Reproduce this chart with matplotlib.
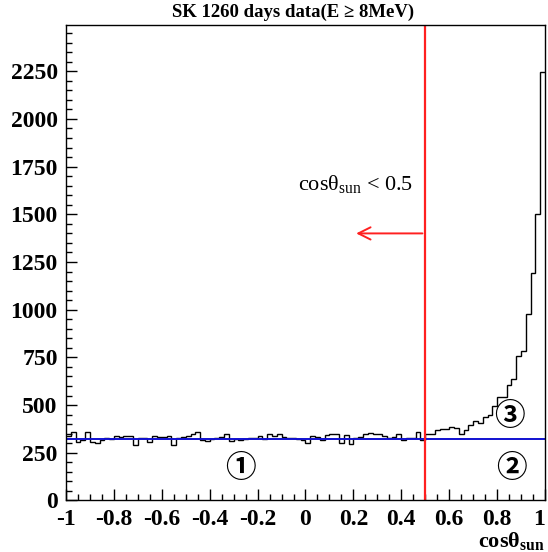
import numpy as np
import matplotlib
matplotlib.use("Agg")
import matplotlib.pyplot as plt
import matplotlib.transforms as mtransforms
from matplotlib.ticker import MultipleLocator

plt.rcParams['font.family'] = ['Liberation Serif', 'DejaVu Serif']
plt.rcParams['mathtext.fontset'] = 'custom'
plt.rcParams['mathtext.rm'] = 'Liberation Serif'
plt.rcParams['mathtext.it'] = 'Liberation Serif:italic'
plt.rcParams['mathtext.bf'] = 'Liberation Serif:bold'

# cos(theta_sun) histogram: 100 bins from -1 to 1
bin_edges = np.linspace(-1.0, 1.0, 101)
counts = [
    336, 358, 309, 318, 358, 307, 299, 318, 329, 322,
    339, 334, 338, 339, 290, 330, 325, 309, 339, 335,
    332, 336, 290, 328, 332, 337, 350, 358, 317, 312,
    320, 330, 334, 349, 312, 322, 319, 320, 328, 330,
    339, 320, 346, 340, 350, 334, 330, 327, 321, 315,
    300, 339, 334, 316, 342, 348, 351, 302, 342, 298,
    330, 334, 348, 356, 351, 346, 339, 330, 335, 351,
    316, 330, 330, 360, 316, 346, 348, 369, 376, 376,
    386, 379, 351, 372, 395, 418, 407, 436, 448, 495,
    544, 545, 606, 636, 755, 786, 980, 1191, 1502, 2245,
]
background_level = 322
cut_value = 0.5

fig = plt.figure(figsize=(5.48, 5.52), dpi=100)
ax = fig.add_axes([0.1204, 0.0933, 0.8741, 0.8623])

ax.stairs(counts, bin_edges, color='black', lw=1.0, baseline=None)
ax.axhline(background_level, color='#1010d0', lw=1.4)
ax.axvline(cut_value, color='#ff2020', lw=1.6)

ax.set_xlim(-1, 1)
ax.set_ylim(0, 2495)

ax.xaxis.set_minor_locator(MultipleLocator(0.05))
ax.yaxis.set_major_locator(MultipleLocator(250))
ax.yaxis.set_minor_locator(MultipleLocator(50))
ax.tick_params(which='both', direction='in', top=False, right=False, width=1.0)
ax.tick_params(which='major', length=8, labelsize=17, pad=6)
ax.tick_params(which='minor', length=4)

def fmt_x(v):
    s = f"{v:.1f}".rstrip('0').rstrip('.')
    if s in ('-0', '-0.'):
        s = '0'
    return s

xt = np.round(np.arange(-1, 1.01, 0.2), 2)
ax.set_xticks(xt)
ax.set_xticklabels([fmt_x(v) for v in xt], fontweight='bold')
for lab in ax.get_yticklabels():
    lab.set_fontweight('bold')

# keep the last x tick label inside the canvas
last_lab = ax.get_xticklabels()[-1]
last_lab.set_transform(last_lab.get_transform() +
                       mtransforms.ScaledTranslation(-4 / 72, 0, fig.dpi_scale_trans))

for sp in ax.spines.values():
    sp.set_linewidth(1.0)

fig.text(0.534, 0.977, 'SK 1260 days data(E \u2265 8MeV)', ha='center', va='center',
         fontsize=13.5, fontweight='bold')

fig.text(0.9945, 0.0, '$\\mathbf{cos\u03b8_{sun}}$', ha='right', va='bottom',
         fontsize=16)

ax.text(-0.03, 1660, '$\\mathrm{cos\u03b8_{sun}}$ < 0.5', ha='left', va='center',
        fontsize=16)
ax.annotate('', xy=(0.2, 1400), xytext=(cut_value, 1400),
            arrowprops=dict(arrowstyle='->', color='#ff2020', lw=1.4,
                            mutation_scale=22))

circ_font = ['Noto Sans CJK JP', 'DejaVu Sans']
ax.text(-0.27, 170, '\u2460', ha='center', va='center', fontsize=22,
        fontweight='bold', family=circ_font)
ax.text(0.86, 170, '\u2461', ha='center', va='center', fontsize=22,
        fontweight='bold', family=circ_font)
ax.text(0.85, 445, '\u2462', ha='center', va='center', fontsize=22,
        fontweight='bold', family=circ_font)

fig.savefig('out.png', dpi=100)
